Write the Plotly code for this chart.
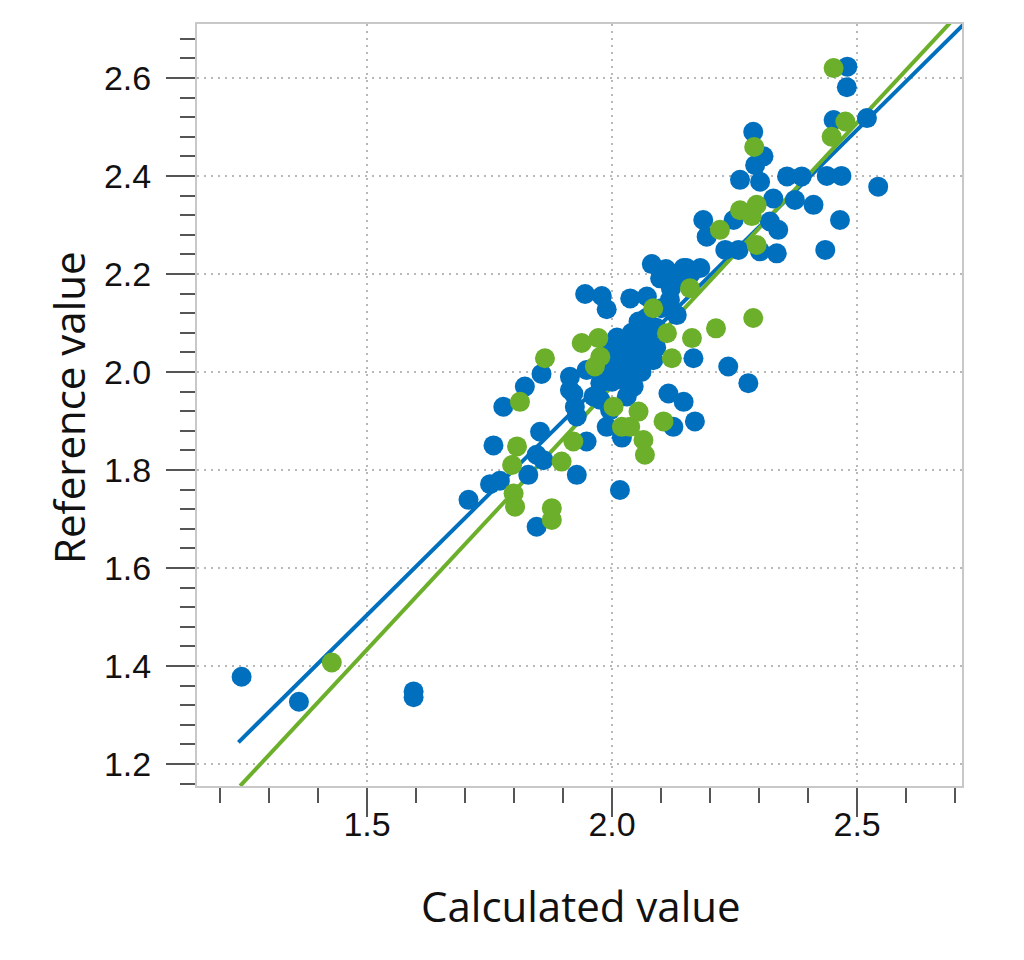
import plotly.graph_objects as go

# ---- data ----
blue_x = [1.244, 1.361, 1.595, 1.595,
          1.707, 1.751, 1.771, 1.758, 1.778, 1.822, 1.829, 1.846, 1.846, 1.860, 1.853, 1.856,
          1.914, 1.914, 1.921, 1.924, 1.928, 1.928, 1.945, 1.948, 1.948, 1.962, 1.976, 1.976,
          1.979, 1.989, 1.989, 1.996, 2.003, 2.016, 2.020, 2.023, 2.030, 2.016, 2.030, 2.037,
          2.037, 2.044, 2.054, 2.057, 2.071, 2.071, 2.084, 2.081, 2.098, 2.118, 2.132, 2.132,
          2.146, 2.180, 2.115, 2.146, 2.169, 2.125, 2.166, 2.237, 2.278,
          2.000, 2.010, 2.020, 2.040, 2.050, 2.060, 2.070, 2.090, 2.100, 2.120, 2.140, 2.060,
          2.040, 1.990, 2.000, 2.090, 2.110, 2.160,
          2.152, 2.186, 2.193, 2.231, 2.258, 2.248, 2.302, 2.336, 2.322, 2.339, 2.329, 2.373,
          2.411, 2.261, 2.302, 2.357, 2.387, 2.438, 2.468, 2.435, 2.465, 2.543, 2.288, 2.309,
          2.292, 2.452, 2.520, 2.480, 2.479]
blue_y = [1.378, 1.327, 1.348, 1.336,
          1.739, 1.771, 1.778, 1.850, 1.929, 1.970, 1.790, 1.684, 1.831, 1.820, 1.878, 1.996,
          1.990, 1.963, 1.956, 1.929, 1.909, 1.790, 2.159, 1.858, 2.004, 1.950, 1.977, 1.943,
          2.155, 2.128, 1.888, 1.922, 2.011, 1.759, 1.866, 1.984, 2.065, 2.045, 1.950, 2.150,
          2.004, 1.970, 2.103, 2.031, 2.154, 2.065, 2.024, 2.220, 2.191, 2.147, 2.116, 2.201,
          2.212, 2.212, 1.956, 1.939, 1.899, 1.888, 2.028, 2.011, 1.977,
          2.050, 2.070, 2.020, 2.080, 2.050, 2.090, 2.110, 2.090, 2.130, 2.170, 2.190, 2.000,
          2.030, 2.000, 1.980, 2.050, 2.210, 2.200,
          2.212, 2.310, 2.276, 2.249, 2.249, 2.310, 2.246, 2.242, 2.307, 2.290, 2.354, 2.351,
          2.341, 2.392, 2.388, 2.399, 2.399, 2.400, 2.400, 2.249, 2.310, 2.378, 2.490, 2.440,
          2.422, 2.514, 2.518, 2.623, 2.581]

green_x = [1.428, 1.799, 1.802, 1.796, 1.806, 1.812, 1.863, 1.877, 1.877, 1.897, 1.921,
           1.938, 1.972, 1.976, 1.965, 2.003, 2.020, 2.037, 2.054, 2.064, 2.067, 2.105,
           2.084, 2.112, 2.122, 2.163, 2.159, 2.212, 2.288, 2.220, 2.261, 2.295, 2.285,
           2.295, 2.290, 2.448, 2.476, 2.452]
green_y = [1.407, 1.752, 1.725, 1.810, 1.848, 1.939, 2.028, 1.722, 1.698, 1.817, 1.858,
           2.059, 2.069, 2.031, 2.011, 1.929, 1.888, 1.888, 1.919, 1.861, 1.831, 1.899,
           2.130, 2.079, 2.028, 2.069, 2.171, 2.089, 2.110, 2.290, 2.330, 2.341, 2.318,
           2.259, 2.459, 2.480, 2.511, 2.620]

# regression lines (slope, intercept, x start)
blue_fit = (0.990, 0.019, 1.2375)
green_fit = (1.075, -0.179, 1.241)
fit_x_end = 2.75

x_tickvals = [1.5, 2.0, 2.5]
x_ticktext = ["1.5", "2.0", "2.5"]
y_tickvals = [1.2, 1.4, 1.6, 1.8, 2.0, 2.2, 2.4, 2.6]
y_ticktext = ["1.2", "1.4", "1.6", "1.8", "2.0", "2.2", "2.4", "2.6"]

x_title = "Calculated value"
y_title = "Reference value"

BLUE = "#0070BE"
GREEN = "#6BAF2A"

fig = go.Figure()

for (m, b, x0), col in [(blue_fit, BLUE), (green_fit, GREEN)]:
    xs = [x0, fit_x_end]
    ys = [m * v + b for v in xs]
    fig.add_trace(go.Scatter(x=xs, y=ys, mode="lines",
                             line=dict(color=col, width=4), showlegend=False,
                             hoverinfo="skip"))

fig.add_trace(go.Scatter(x=blue_x, y=blue_y, mode="markers",
                         marker=dict(color=BLUE, size=20, line=dict(width=0)),
                         showlegend=False))
fig.add_trace(go.Scatter(x=green_x, y=green_y, mode="markers",
                         marker=dict(color=GREEN, size=20, line=dict(width=0)),
                         showlegend=False))

tick_font = dict(family="Liberation Sans, Arial, sans-serif", size=34, color="#111111")
axis_common = dict(
    showline=True, mirror=True, linecolor="#c8c8c8", linewidth=2,
    ticks="outside", ticklen=29, tickwidth=2, tickcolor="#555555",
    showgrid=True, gridcolor="#b8b8b8", gridwidth=2, griddash="2px,5px",
    zeroline=False, tickfont=tick_font, tickmode="array",
)

fig.update_xaxes(range=[1.153, 2.714], tickvals=x_tickvals, ticktext=x_ticktext,
                 ticklabelstandoff=-22,
                 minor=dict(ticks="outside", ticklen=15, tickwidth=2, tickcolor="#555555",
                            dtick=0.1, tick0=1.2, showgrid=False),
                 **axis_common)
fig.update_yaxes(range=[1.155, 2.710], tickvals=y_tickvals, ticktext=y_ticktext,
                 ticklabelstandoff=8,
                 minor=dict(ticks="outside", ticklen=15, tickwidth=2, tickcolor="#555555",
                            dtick=0.04, tick0=1.16, showgrid=False),
                 **axis_common)

title_font = dict(family="Open Sans, Noto Sans, sans-serif", size=42, color="#111111")
fig.add_annotation(text=y_title, xref="paper", yref="paper",
                   x=(68 - 197) / 765, y=(786 - 408) / 762, textangle=-90,
                   showarrow=False, xanchor="center", yanchor="middle", font=title_font)
fig.add_annotation(text=x_title, xref="paper", yref="paper",
                   x=(581 - 197) / 765, y=(786 - 905) / 762,
                   showarrow=False, xanchor="center", yanchor="middle", font=title_font)

fig.update_layout(
    width=1024, height=960,
    margin=dict(l=197, r=62, t=24, b=174),
    paper_bgcolor="white", plot_bgcolor="white",
    showlegend=False,
)

fig.write_html("out.html")
